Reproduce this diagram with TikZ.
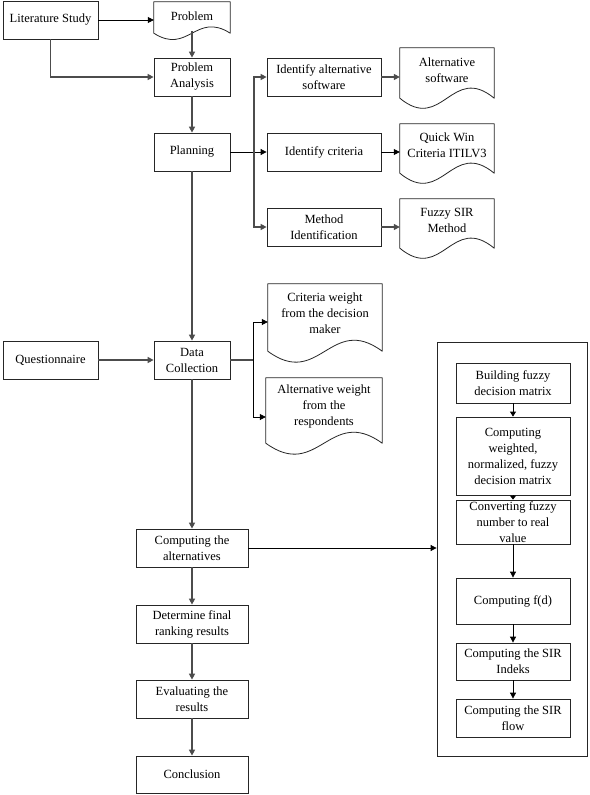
\documentclass[tikz,border=0pt]{standalone}
\usepackage{fontspec}
\setmainfont{Liberation Serif}
\usetikzlibrary{arrows.meta,calc}
\tikzset{
  boxline/.style={draw=black!85, line width=0.8pt},
  box/.style={boxline, align=center, inner sep=1pt, font=\fontsize{12.5}{16}\selectfont},
  docnode/.style={align=center, inner sep=1pt, font=\fontsize{12.5}{16}\selectfont},
  tip/.style={-{Triangle[length=6pt,width=6pt]}},
  blk/.style={draw=black, line width=0.8pt},
  gry/.style={draw=black!70, line width=1.5pt},
}
\newcommand\docw[3]{%
  \coordinate (#1-r) at ([yshift=-#2pt]#1.south east);
  \coordinate (#1-l) at ([yshift=-#2pt]#1.south west);
  \draw[boxline, line join=round] (#1-l) -- (#1.north west) -- (#1.north east) -- (#1-r)
    .. controls ($(#1-r)!0.45!(#1-l)+(0,-#3)$) and ($(#1-l)!0.45!(#1-r)+(0,#3)$) .. (#1-l) -- cycle;}
\begin{document}
\begin{tikzpicture}[x=1pt,y=-1pt]
\useasboundingbox[fill=white] (0,0) rectangle (589,795);
% main column
\node[box, minimum width=95, minimum height=38] (lit) at (50.5,20) {Literature Study};
\node[docnode, minimum width=76, minimum height=29] (prob) at (192,16.5) {Problem};
\docw{prob}{2}{22}
\node[box, minimum width=76, minimum height=38] (pa) at (192,77) {Problem\\Analysis};
\node[box, minimum width=76, minimum height=38] (plan) at (192,152) {Planning};
\node[box, minimum width=114, minimum height=38] (ias) at (324,77) {Identify alternative\\software};
\node[box, minimum width=114, minimum height=38] (ic) at (324,152) {Identify criteria};
\node[box, minimum width=114, minimum height=38] (mi) at (324,227) {Method\\Identification};
\node[docnode, minimum width=94, minimum height=44] (asw) at (447,70) {Alternative\\software};
\docw{asw}{6}{35}
\node[docnode, minimum width=94, minimum height=42] (qw) at (447,145) {Quick Win\\Criteria ITILV3};
\docw{qw}{7}{35}
\node[docnode, minimum width=94, minimum height=42] (fs) at (447,220) {Fuzzy SIR\\Method};
\docw{fs}{7}{35}
\node[box, minimum width=95, minimum height=38] (quest) at (50.5,360) {Questionnaire};
\node[box, minimum width=76, minimum height=38] (dc) at (192,360) {Data\\Collection};
\node[docnode, minimum width=114, minimum height=58] (cw) at (325,313) {Criteria weight\\from the decision\\maker};
\docw{cw}{9}{38}
\node[docnode, minimum width=116, minimum height=56] (aw) at (324,406) {Alternative weight\\from the\\respondents};
\docw{aw}{9}{38}
\node[box, minimum width=112, minimum height=38] (ca) at (192,548) {Computing the\\alternatives};
\node[box, minimum width=112, minimum height=38] (dfr) at (192,624) {Determine final\\ranking results};
\node[box, minimum width=112, minimum height=38] (ev) at (192,699) {Evaluating the\\results};
\node[box, minimum width=112, minimum height=37] (con) at (192,774.5) {Conclusion};
% big box
\node[boxline, minimum width=150, minimum height=414, inner sep=0pt] (big) at (512,549) {};
\node[box, minimum width=114, minimum height=40] (bfd) at (513,383) {Building fuzzy\\decision matrix};
\node[box, minimum width=114, minimum height=78] (cwn) at (513,456) {Computing\\weighted,\\normalized, fuzzy\\decision matrix};
\node[box, minimum width=114, minimum height=44] (cf) at (513,522) {Converting fuzzy\\number to real\\value};
\node[box, minimum width=114, minimum height=46] (fd) at (513,601) {Computing f(d)};
\node[box, minimum width=114, minimum height=37] (siri) at (513,661.5) {Computing the SIR\\Indeks};
\node[box, minimum width=114, minimum height=38] (sirf) at (513,718) {Computing the SIR\\flow};
% connectors
\coordinate (b1) at (254,0);
\coordinate (b2) at (253,0);
\draw[blk, tip] (lit) -- (lit -| prob.west);
\draw[gry, tip] (prob.south) -- (pa.north);
\draw[gry, tip] (lit.south) |- (pa.west);
\draw[gry, tip] (pa) -- (plan);
\draw[blk, tip] (plan) -- (ic);
\draw[gry, tip] (plan.east -| b1) |- (ias.west);
\draw[gry, tip] (plan.east -| b1) |- (mi.west);
\draw[gry, tip] (ias.east) -- (ias.east -| asw.west);
\draw[blk, tip] (ic.east) -- (ic.east -| qw.west);
\draw[gry, tip] (mi.east) -- (mi.east -| fs.west);
\draw[gry, tip] (plan) -- (dc);
\draw[gry, tip] (quest) -- (dc);
\draw[gry] (dc.east) -- (dc.east -| b2);
\draw[blk, tip] (dc.east -| b2) |- ([yshift=-9pt]cw.west);
\draw[blk, tip] (dc.east -| b2) |- ([yshift=-11pt]aw.west);
\draw[gry, tip] (dc) -- (ca);
\draw[blk, tip] (ca.east) -- (ca.east -| big.west);
\draw[gry, tip] (ca) -- (dfr);
\draw[gry, tip] (dfr) -- (ev);
\draw[gry, tip] (ev) -- (con);
\draw[blk, -{Triangle[length=5pt,width=6pt]}] (bfd) -- (cwn);
\draw[blk, -{Triangle[length=4pt,width=6pt]}] (cwn) -- (cf);
\draw[blk, tip] (cf) -- (fd);
\draw[blk, tip] (fd) -- (siri);
\draw[blk, tip] (siri) -- (sirf);
\end{tikzpicture}
\end{document}
